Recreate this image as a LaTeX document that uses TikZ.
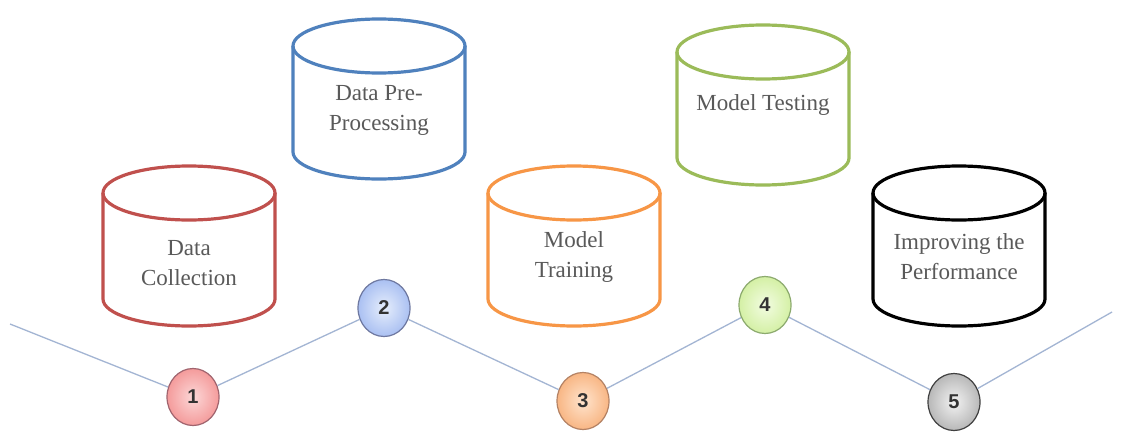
\documentclass[tikz,border=0pt]{standalone}
\usepackage{fontspec}
\setmainfont{Liberation Serif}
\newfontfamily\numfont{Liberation Sans}
\usetikzlibrary{shapes.geometric}
\definecolor{cred}{HTML}{C0504D}
\definecolor{cblue}{HTML}{4F81BD}
\definecolor{corange}{HTML}{F79646}
\definecolor{cgreen}{HTML}{9BBB59}
\definecolor{cblack}{HTML}{000000}
\definecolor{txtgray}{HTML}{595959}
\definecolor{linecol}{HTML}{A3B5D3}
\newcommand\mycyl[3]{% cx, top, color
  \draw[cylline,#3] (#1,#2+27) ellipse[x radius=86, y radius=27];
  \draw[cylline,#3] (#1-86,#2+27) -- (#1-86,#2+133)
     arc[start angle=180, end angle=0, x radius=86, y radius=27] -- (#1+86,#2+27);
}
\tikzset{
  cylline/.style={line width=3.2pt, line join=round},
  cyltext/.style={align=center, text=txtgray, font=\fontsize{23}{30}\selectfont},
  conn/.style={draw=linecol, line width=1.3pt},
  ball/.style={ellipse, minimum width=52pt, minimum height=57pt, inner sep=0pt,
     line width=1.2pt, font=\numfont\bfseries\fontsize{20}{20}\selectfont, text=black!80},
}
\begin{document}
\begin{tikzpicture}[x=1pt,y=-1pt]
\useasboundingbox[fill=white] (0,0) rectangle (1134,439);
% cylinders
\mycyl{189}{166}{cred}
\mycyl{379}{19}{cblue}
\mycyl{574}{166}{corange}
\mycyl{763}{25}{cgreen}
\mycyl{959}{166}{cblack}
\node[cyltext] (t1) at (189,263) {Data\\Collection};
\node[cyltext] (t2) at (379,110) {Data Pre-\\Processing};
\node[cyltext] (t3) at (574,257) {Model\\Training};
\node[cyltext] (t4) at (763,105) {Model Testing};
\node[cyltext] (t5) at (959,257) {Improving the\\Performance};
% balls
\node[ball, draw={rgb,255:red,160;green,100;blue,110}, inner color={rgb,255:red,252;green,215;blue,215}, outer color={rgb,255:red,244;green,155;blue,155}] (b1) at (193,397) {1};
\node[ball, draw={rgb,255:red,110;green,120;blue,160}, inner color={rgb,255:red,230;green,238;blue,252}, outer color={rgb,255:red,170;green,192;blue,242}] (b2) at (384,308) {2};
\node[ball, draw={rgb,255:red,180;green,130;blue,100}, inner color={rgb,255:red,255;green,228;blue,205}, outer color={rgb,255:red,248;green,182;blue,132}] (b3) at (583,401) {3};
\node[ball, draw={rgb,255:red,140;green,170;blue,110}, inner color={rgb,255:red,242;green,252;blue,225}, outer color={rgb,255:red,212;green,240;blue,165}] (b4) at (765,305) {4};
\node[ball, draw=black!75, inner color=black!5, outer color=black!28] (b5) at (954,402) {5};
\coordinate (s) at (10,324);
\coordinate (e) at (1112,312);
\draw[conn] (s) -- (b1);
\draw[conn] (b1) -- (b2);
\draw[conn] (b2) -- (b3);
\draw[conn] (b3) -- (b4);
\draw[conn] (b4) -- (b5);
\draw[conn] (b5) -- (e);
\end{tikzpicture}
\end{document}
